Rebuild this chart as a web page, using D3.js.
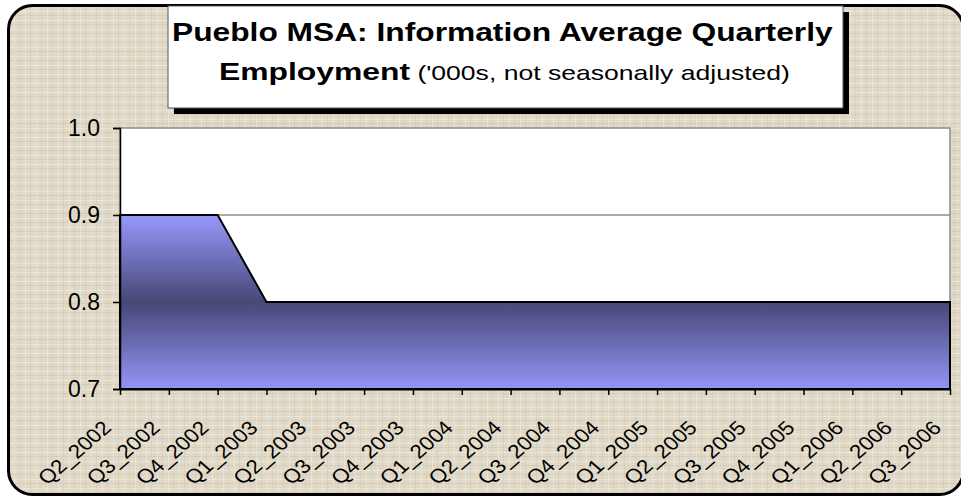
<!DOCTYPE html>
<html>
<head>
<meta charset="utf-8">
<script src="https://cdn.jsdelivr.net/npm/d3@7"></script>
<style>
  html, body { margin: 0; padding: 0; background: #ffffff; }
  svg { display: block; font-family: "Liberation Sans", Arial, sans-serif; }
</style>
</head>
<body>
<svg id="chart"></svg>
<script>
const quarters = [
  "Q2_2002", "Q3_2002", "Q4_2002", "Q1_2003", "Q2_2003", "Q3_2003",
  "Q4_2003", "Q1_2004", "Q2_2004", "Q3_2004", "Q4_2004", "Q1_2005",
  "Q2_2005", "Q3_2005", "Q4_2005", "Q1_2006", "Q2_2006", "Q3_2006"
];
const employment = [
  0.9, 0.9, 0.9, 0.8, 0.8, 0.8,
  0.8, 0.8, 0.8, 0.8, 0.8, 0.8,
  0.8, 0.8, 0.8, 0.8, 0.8, 0.8
];
const yTicks = [0.7, 0.8, 0.9, 1.0];
const yDomain = [0.7, 1.0];

const width = 961, height = 500;
const plot = { left: 120, right: 950, top: 128, bottom: 389 };
const font = "'Liberation Sans', Arial, sans-serif";

const svg = d3.select("#chart")
  .attr("width", width)
  .attr("height", height);

const defs = svg.append("defs");

// beige linen texture for the frame
const pat = defs.append("pattern")
  .attr("id", "linen")
  .attr("patternUnits", "userSpaceOnUse")
  .attr("width", 11)
  .attr("height", 9);
pat.append("rect").attr("width", 11).attr("height", 9).attr("fill", "#e0d9c8");
pat.append("rect").attr("x", 0).attr("y", 2).attr("width", 11).attr("height", 1).attr("fill", "#ebe6da");
pat.append("rect").attr("x", 0).attr("y", 6).attr("width", 11).attr("height", 1).attr("fill", "#d6cdb9");
pat.append("rect").attr("x", 3).attr("y", 0).attr("width", 1).attr("height", 9).attr("fill", "#ebe5d8").attr("opacity", 0.8);
pat.append("rect").attr("x", 8).attr("y", 0).attr("width", 1).attr("height", 9).attr("fill", "#d3cab5").attr("opacity", 0.6);

// area gradient: light - dark - light
const grad = defs.append("linearGradient")
  .attr("id", "areaGrad")
  .attr("x1", "0%").attr("x2", "0%")
  .attr("y1", "0%").attr("y2", "100%");
grad.append("stop").attr("offset", "0%").attr("stop-color", "#9898fc");
grad.append("stop").attr("offset", "50%").attr("stop-color", "#474777");
grad.append("stop").attr("offset", "100%").attr("stop-color", "#9494f6");

// outer frame
svg.append("rect")
  .attr("x", 8.5).attr("y", 5.5)
  .attr("width", 955).attr("height", 489)
  .attr("rx", 24).attr("ry", 24)
  .attr("fill", "url(#linen)")
  .attr("stroke", "#000")
  .attr("stroke-width", 3);

const x = d3.scalePoint()
  .domain(quarters)
  .range([plot.left, plot.right]);

const y = d3.scaleLinear()
  .domain(yDomain)
  .range([plot.bottom, plot.top]);

// plot background
svg.append("rect")
  .attr("x", plot.left).attr("y", plot.top)
  .attr("width", plot.right - plot.left)
  .attr("height", plot.bottom - plot.top)
  .attr("fill", "#ffffff")
  .attr("stroke", "#8c8c8c")
  .attr("stroke-width", 1.5);

// gridlines
svg.append("g")
  .selectAll("line")
  .data(yTicks.filter(d => d > yDomain[0] && d < yDomain[1]))
  .enter().append("line")
  .attr("x1", plot.left).attr("x2", plot.right)
  .attr("y1", d => y(d)).attr("y2", d => y(d))
  .attr("stroke", "#8c8c8c")
  .attr("stroke-width", 1.5);

// area
const area = d3.area()
  .x((d, i) => x(quarters[i]))
  .y0(y(yDomain[0]))
  .y1(d => y(d));

svg.append("path")
  .datum(employment)
  .attr("d", area)
  .attr("fill", "url(#areaGrad)")
  .attr("stroke", "#000")
  .attr("stroke-width", 2)
  .attr("stroke-linejoin", "miter");

// y axis
const yAxis = svg.append("g")
  .attr("transform", `translate(${plot.left},0)`)
  .call(d3.axisLeft(y).tickValues(yTicks).tickFormat(d3.format(".1f")).tickSize(7).tickPadding(13))
  .attr("font-size", 23)
  .attr("font-family", font);
yAxis.select(".domain").attr("stroke", "#000").attr("stroke-width", 1.5);
yAxis.selectAll("line").attr("stroke", "#000").attr("stroke-width", 1.5);
yAxis.selectAll("text").attr("fill", "#000");

// x axis - labels rotated then widened a little like the original
const xAxis = svg.append("g")
  .attr("transform", `translate(0,${plot.bottom})`)
  .call(d3.axisBottom(x).tickSize(6).tickSizeOuter(0))
  .attr("font-size", 19.5)
  .attr("font-family", font);
xAxis.select(".domain").attr("stroke", "#000").attr("stroke-width", 2);
xAxis.selectAll("line").attr("stroke", "#000").attr("stroke-width", 1.5);
xAxis.selectAll("text")
  .attr("fill", "#000")
  .attr("text-anchor", "end")
  .attr("y", 0)
  .attr("dy", 0)
  .attr("transform", "translate(-8,40) scale(1.15,1) rotate(-45)");

// title box with shadow
const tb = { x: 168, y: 6, w: 675, h: 102 };
svg.append("rect")
  .attr("x", tb.x + 6).attr("y", tb.y + 6)
  .attr("width", tb.w).attr("height", tb.h)
  .attr("fill", "#000");
svg.append("rect")
  .attr("x", tb.x).attr("y", tb.y)
  .attr("width", tb.w).attr("height", tb.h)
  .attr("fill", "#fff")
  .attr("stroke", "#555")
  .attr("stroke-width", 1);

// stretch a text horizontally so it spans x0..x1
function stretchTo(sel, x0, x1, baseline) {
  sel.attr("x", 0).attr("y", 0).attr("text-anchor", "start");
  const w = sel.node().getBBox().width;
  sel.attr("transform", `translate(${x0},${baseline}) scale(${(x1 - x0) / w},1)`);
}

const line1 = svg.append("text")
  .style("font-size", "25px")
  .style("font-weight", "bold")
  .text("Pueblo MSA: Information Average Quarterly");
stretchTo(line1, 172, 833, 41);

const line2 = svg.append("text");
line2.append("tspan")
  .style("font-size", "24px")
  .style("font-weight", "bold")
  .text("Employment");
line2.append("tspan")
  .style("font-size", "20px")
  .text(" ('000s, not seasonally adjusted)");
stretchTo(line2, 219, 790, 80);
</script>
</body>
</html>
